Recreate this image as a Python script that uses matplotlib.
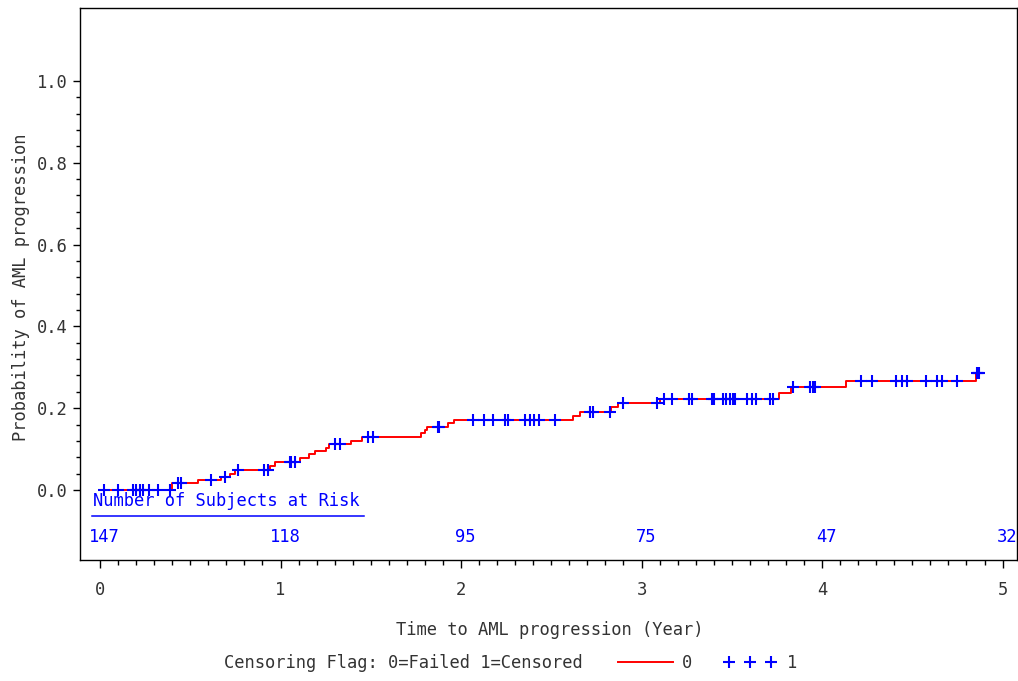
"""Cumulative incidence of AML progression (SAS-style KM plot) with censor marks
and a number-at-risk row.
"""
import numpy as np
import matplotlib
matplotlib.use("Agg")
import matplotlib.pyplot as plt
from matplotlib.ticker import FixedLocator

plt.rcParams.update({"font.family": "DejaVu Sans Mono", "font.size": 12.3})

# step curve: time of each jump and level after it
step_times = [0.0, 0.40, 0.54, 0.67, 0.72, 0.75, 0.94, 0.97, 1.11, 1.16, 1.19,
              1.25, 1.27, 1.39, 1.45, 1.78, 1.80, 1.81, 1.93, 1.96, 2.62, 2.66,
              2.83, 2.87, 3.10, 3.76, 3.83, 4.13, 4.855]
step_vals = [0.0, 0.017, 0.024, 0.031, 0.038, 0.048, 0.059, 0.069, 0.079, 0.089,
             0.096, 0.103, 0.112, 0.121, 0.130, 0.139, 0.147, 0.155, 0.165, 0.171,
             0.182, 0.191, 0.202, 0.213, 0.222, 0.236, 0.251, 0.267, 0.287]
end_time = 4.87

censor_times = [0.02, 0.10, 0.18, 0.20, 0.22, 0.24, 0.27, 0.32, 0.39, 0.43, 0.45,
                0.615, 0.69, 0.765, 0.91, 0.93, 1.05, 1.06, 1.08, 1.30, 1.33,
                1.485, 1.51, 1.87, 1.88, 2.065, 2.126, 2.176, 2.244, 2.259, 2.356,
                2.38, 2.404, 2.43, 2.519, 2.713, 2.731, 2.824, 2.90, 3.083, 3.126,
                3.167, 3.263, 3.278, 3.389, 3.404, 3.454, 3.467, 3.491, 3.504,
                3.515, 3.583, 3.611, 3.633, 3.709, 3.731, 3.84, 3.935, 3.948,
                3.963, 4.218, 4.274, 4.411, 4.444, 4.472, 4.574, 4.639, 4.663,
                4.75, 4.858, 4.865, 4.872]

risk_times = [0, 1, 2, 3, 4, 5]
risk_counts = [147, 118, 95, 75, 47, 32]

RED = "#ff0000"
BLUE = "#0000ff"
GREY = "#333333"

fig = plt.figure(figsize=(10.18, 6.81), dpi=100)
ax = fig.add_axes([80 / 1018, 121 / 681, 937 / 1018, 552 / 681])

# curve
xs = np.append(step_times, end_time)
ys = np.append(step_vals, step_vals[-1])
ax.step(xs, ys, where="post", color=RED, lw=1.4, zorder=2)

# censor marks sit on the curve
idx = np.searchsorted(step_times, censor_times, side="right") - 1
cy = np.array(step_vals)[idx]
ax.plot(censor_times, cy, ls="none", marker="+", ms=8, mew=1.5,
        color=BLUE, zorder=3)

# number at risk
ax.text(-0.04, -0.027, "Number of Subjects at Risk", color=BLUE,
        ha="left", va="center")
ax.plot([-0.046, 1.465], [-0.064, -0.064], color=BLUE, lw=1.1)
for t, n in zip(risk_times, risk_counts):
    ax.text(t + 0.025, -0.115, str(n), color=BLUE, ha="center", va="center")

ax.set_xlim(-0.111, 5.08)
ax.set_ylim(-0.171, 1.178)
ax.set_xticks(risk_times)
ax.set_xticklabels([str(t) for t in risk_times])
ax.xaxis.set_minor_locator(FixedLocator(np.arange(0, 5.001, 0.1)))
yt = [0.0, 0.2, 0.4, 0.6, 0.8, 1.0]
ax.set_yticks(yt)
ax.set_yticklabels([f"{v:.1f}" for v in yt])
ax.yaxis.set_minor_locator(FixedLocator(np.arange(0, 1.0001, 0.04)))

ax.tick_params(axis="x", which="major", length=6, width=1, pad=9,
               colors="black", labelcolor=GREY)
ax.tick_params(axis="x", which="minor", length=3.5, width=1)
ax.tick_params(axis="y", which="major", length=5, width=1, pad=4,
               colors="black", labelcolor=GREY)
ax.tick_params(axis="y", which="minor", length=3, width=1)
for s in ax.spines.values():
    s.set_linewidth(1.0)

ax.set_xlabel("Time to AML progression (Year)", color=GREY)
ax.set_ylabel("Probability of AML progression", color=GREY)
ax.xaxis.set_label_coords(0.5016, -0.111)
ax.yaxis.set_label_coords(-0.053, 0.495)

# legend row under the plot
fig.text(224 / 1018, 1 - 663 / 681, "Censoring Flag: 0=Failed 1=Censored",
         color=GREY, ha="left", va="center")
fig.add_artist(plt.Line2D([618 / 1018, 673 / 1018], [1 - 662 / 681] * 2,
                          color=RED, lw=1.4))
fig.text(687 / 1018, 1 - 663 / 681, "0", color=GREY, ha="center", va="center")
fig.add_artist(plt.Line2D([729 / 1018, 750 / 1018, 771 / 1018],
                          [1 - 662 / 681] * 3, ls="none", marker="+", ms=8,
                          mew=1.5, color=BLUE))
fig.text(792 / 1018, 1 - 663 / 681, "1", color=GREY, ha="center", va="center")

fig.savefig("out.png", dpi=100)
